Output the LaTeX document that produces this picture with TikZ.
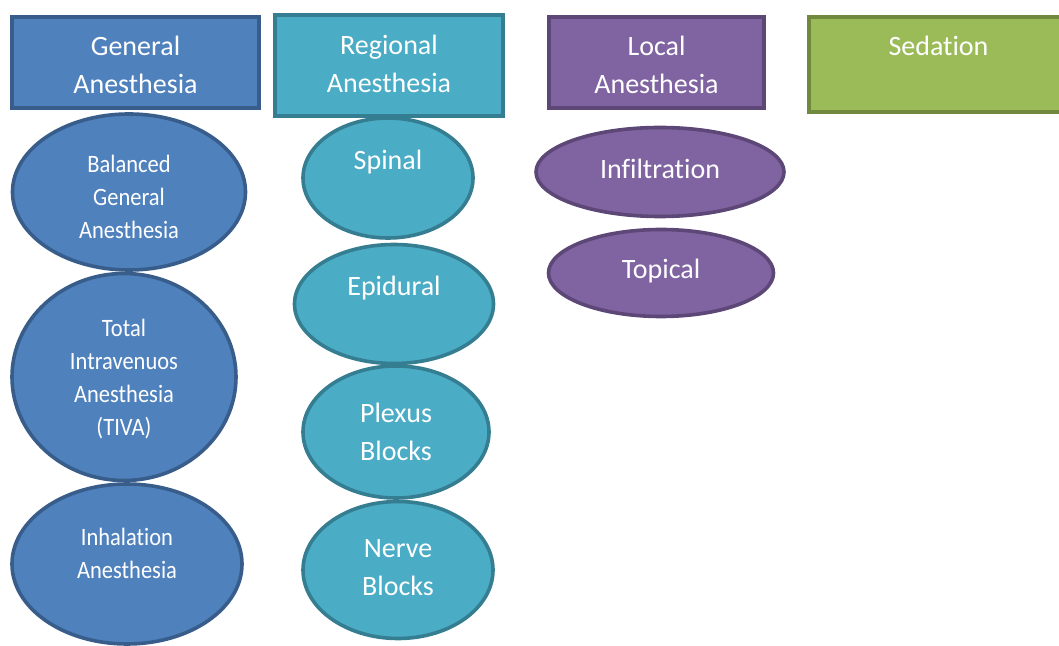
\documentclass[tikz,border=0pt]{standalone}
\usepackage{fontspec}
\setmainfont{Carlito}[Ligatures=CommonOff]
\newfontfamily\narrowfont[FakeStretch=0.9, Ligatures=CommonOff]{Carlito}
\usetikzlibrary{shapes.geometric}
\definecolor{genF}{HTML}{4F81BD}
\definecolor{genD}{HTML}{385D8A}
\definecolor{regF}{HTML}{4BACC6}
\definecolor{regD}{HTML}{357D91}
\definecolor{locF}{HTML}{8064A2}
\definecolor{locD}{HTML}{5C4776}
\definecolor{sedF}{HTML}{9BBB59}
\definecolor{sedD}{HTML}{71893F}

\begin{document}
\begin{tikzpicture}
  [x=0.5pt, y=-0.5pt,
   catbox/.style={rectangle, draw=#1D, fill=#1F, line width=2pt, inner sep=0pt},
   kind/.style={ellipse, draw=#1D, fill=#1F, line width=1.8pt, inner sep=0pt},
   boxtext/.style={text=white, align=center, font=\fontsize{14}{19}\selectfont},
   kindtext/.style={text=white, align=center, font=\fontsize{14}{19}\selectfont},
   gentext/.style={text=white, align=center, font=\narrowfont\fontsize{12.5}{16.5}\selectfont}]
  \useasboundingbox (0,0) rectangle (1059,646);
  % the four kinds of anesthesia
  \foreach \nm/\col/\cx/\cy/\bw/\bh/\ty/\txt in {
      general/gen/135.5/62.5/123.5/45.5/65/{General\\Anesthesia},
      regional/reg/389/65.5/114/50.5/63.5/{Regional\\Anesthesia},
      local/loc/656.5/62.5/107.5/45.5/65/{Local\\Anesthesia},
      sedation/sed/938.5/64.5/129.5/47.5/46/{Sedation}}{
    \node (\nm) at (\cx,\cy) [catbox=\col, minimum width=\bw pt, minimum height=\bh pt] {};
    \node (\nm-t) at (\cx,\ty) [boxtext] {\txt};
  }
  % general anesthesia
  \foreach \nm/\cx/\cy/\ew/\eh/\ty/\txt in {
      balanced/129/192/116.5/78/197/{Balanced\\General\\Anesthesia},
      tiva/124/377/112/103.5/379/{Total\\Intravenuos\\Anesthesia\\(TIVA)},
      inhalation/127/564/115/80/553/{Inhalation\\Anesthesia}}{
    \node (\nm) at (\cx,\cy) [kind=gen, minimum width=\ew pt, minimum height=\eh pt] {};
    \node (\nm-t) at (\cx,\ty) [gentext] {\txt};
  }
  % regional and local anesthesia
  \foreach \nm/\col/\cx/\cy/\ew/\eh/\ty/\txt in {
      spinal/reg/388/178/85/60/162/{Spinal},
      epidural/reg/394/304/99.5/59.5/288/{Epidural},
      plexus/reg/396/432/93/66/432/{Plexus\\Blocks},
      nerve/reg/398/570/95/68.5/568/{Nerve\\Blocks},
      infiltration/loc/660/172/124/44.5/169/{Infiltration},
      topical/loc/661/273/112.5/43.5/271/{Topical}}{
    \node (\nm) at (\cx,\cy) [kind=\col, minimum width=\ew pt, minimum height=\eh pt] {};
    \node (\nm-t) at (\cx,\ty) [kindtext] {\txt};
  }
\end{tikzpicture}
\end{document}
